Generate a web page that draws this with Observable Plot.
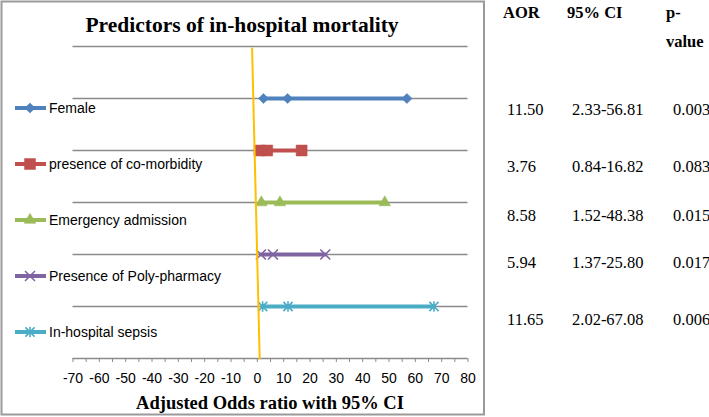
<!DOCTYPE html>
<html>
<head>
<meta charset="utf-8">
<script src="https://cdn.jsdelivr.net/npm/d3@7"></script>
<script src="https://cdn.jsdelivr.net/npm/@observablehq/plot@0.6"></script>
<style>
  html, body { margin: 0; padding: 0; background: #fff; }
  #wrap { position: relative; width: 709px; height: 417px; background: #fff; overflow: hidden; }
  #wrap > svg { position: absolute; left: 0; top: 0; }
</style>
</head>
<body>
<div id="wrap"></div>
<script>
// ---- Data ----
const categories = ["Female", "presence of co-morbidity", "Emergency admission", "Presence of Poly-pharmacy", "In-hospital sepsis"];
const aor      = [11.50, 3.76, 8.58, 5.94, 11.65];
const ciLow    = [2.33, 0.84, 1.52, 1.37, 2.02];
const ciHigh   = [56.81, 16.82, 48.38, 25.80, 67.08];
const pValues  = ["0.003", "0.083", "0.015", "0.017", "0.006"];
const xTickLabels = [-70, -60, -50, -40, -30, -20, -10, 0, 10, 20, 30, 40, 50, 60, 70, 80];
const xMinorTicks = d3.range(-70, 81, 5);
const refLineX = [-2.0, 0.9];
const refLineY = [5.96, 0];
const tableHeaders = ["AOR", "95% CI", "p-", "value"];
const titleText = "Predictors of in-hospital mortality";
const xLabelText = "Adjusted Odds ratio with 95% CI";

// ---- Styles ----
const colors = ["#4F81BD", "#C0504D", "#9BBB59", "#8064A2", "#4BACC6"];
const gridColor = "#8a8a8a";

// Excel-like star marker: X plus a vertical bar
const excelStar = {
  draw(ctx, size) {
    const r = Math.sqrt(size / Math.PI);
    ctx.moveTo(-r, -r); ctx.lineTo(r, r);
    ctx.moveTo(-r, r); ctx.lineTo(r, -r);
    ctx.moveTo(0, -r * 1.15); ctx.lineTo(0, r * 1.15);
  }
};
const markerSpec = [
  {symbol: "diamond2", r: 4.6, filled: true},
  {symbol: "square", r: 6.2, filled: true},
  {symbol: "triangle", r: 4.3, filled: true},
  {symbol: "times", r: 4.6, filled: false},
  {symbol: excelStar, r: 4.6, filled: false}
];

// ---- Build tables ----
const points = [];
categories.forEach((c, i) => {
  [ciLow[i], aor[i], ciHigh[i]].forEach(v => points.push({series: c, row: 5 - i, value: v, idx: i}));
});
const refLine = refLineX.map((x, i) => ({x, y: refLineY[i]}));

const W = 485, H = 417;
const marks = [
  Plot.ruleY([1, 2, 3, 4, 5, 6], {stroke: gridColor, strokeWidth: 1.3}),
  Plot.ruleY([0], {stroke: gridColor, strokeWidth: 1.3}),
  Plot.axisX({ticks: xMinorTicks, tickSize: 4, tickFormat: () => "", stroke: gridColor, strokeWidth: 1}),
  Plot.axisX({ticks: xTickLabels, tickSize: 0, tickPadding: 14.5, tickFormat: d => String(d),
              fill: "#000", fontSize: 14, fontFamily: "Liberation Sans, Arial, sans-serif"}),
  Plot.line(points, {x: "value", y: "row", z: "series", stroke: "series", strokeWidth: 4})
];
categories.forEach((c, i) => {
  const m = markerSpec[i];
  marks.push(Plot.dot(points.filter(p => p.idx === i), {
    x: "value", y: "row", symbol: () => m.symbol, r: m.r,
    fill: m.filled ? colors[i] : "none",
    stroke: colors[i], strokeWidth: m.filled ? 0.5 : 1.6
  }));
});
marks.push(Plot.line(refLine, {x: "x", y: "y", stroke: "#FFC000", strokeWidth: 2}));

const chart = Plot.plot({
  width: W, height: H,
  marginLeft: 72.5, marginRight: W - 467.5, marginTop: 46, marginBottom: H - 358,
  x: {domain: [-70, 80], label: null},
  y: {domain: [0, 6], axis: null},
  color: {domain: categories, range: colors},
  symbol: {domain: markerSpec.map((m, i) => i), range: markerSpec.map(m => m.symbol)},
  style: {background: "transparent", fontFamily: "Liberation Sans, Arial, sans-serif", fontSize: "14px", color: "#000", overflow: "visible"},
  marks
});
document.getElementById("wrap").appendChild(chart);

// ---- Overlay: frame, title, axis label, legend, table ----
const ov = d3.select("#wrap").append("svg").attr("width", 709).attr("height", 417)
  .style("pointer-events", "none");
ov.append("rect").attr("x", 1.5).attr("y", 1.5).attr("width", 482.5).attr("height", 413)
  .attr("fill", "none").attr("stroke", "#9a9a9a").attr("stroke-width", 2);

const serif = "Liberation Serif, Times New Roman, serif";
const sans = "Liberation Sans, Arial, sans-serif";
ov.append("text").attr("x", 242).attr("y", 32).attr("text-anchor", "middle")
  .attr("font-family", serif).attr("font-weight", "bold").attr("font-size", 21.5).text(titleText);
ov.append("text").attr("x", 270).attr("y", 409).attr("text-anchor", "middle")
  .attr("font-family", serif).attr("font-weight", "bold").attr("font-size", 18.5).text(xLabelText);

// Legend
const symMap = {diamond2: d3.symbolDiamond2, square: d3.symbolSquare, triangle: d3.symbolTriangle, times: d3.symbolTimes};
categories.forEach((c, i) => {
  const cy = 108 + i * 56;
  const g = ov.append("g");
  g.append("line").attr("x1", 15).attr("x2", 46).attr("y1", cy).attr("y2", cy)
    .attr("stroke", colors[i]).attr("stroke-width", 4);
  const m = markerSpec[i];
  const d3sym = symMap[m.symbol] || m.symbol;
  g.append("path").attr("transform", `translate(30,${cy})`)
    .attr("d", d3.symbol(d3sym, m.r * m.r * Math.PI)())
    .attr("fill", m.filled ? colors[i] : "none")
    .attr("stroke", colors[i]).attr("stroke-width", m.filled ? 0.5 : 1.6);
  g.append("text").attr("x", 49).attr("y", cy + 5)
    .attr("font-family", sans).attr("font-size", 14).attr("fill", "#000").text(c);
});

// Table
const hdr = ov.append("g").attr("font-family", serif).attr("font-weight", "bold").attr("font-size", 16.5);
hdr.append("text").attr("x", 503).attr("y", 18).text(tableHeaders[0]);
hdr.append("text").attr("x", 567).attr("y", 18).text(tableHeaders[1]);
hdr.append("text").attr("x", 666).attr("y", 18).text(tableHeaders[2]);
hdr.append("text").attr("x", 666).attr("y", 47).text(tableHeaders[3]);
const tableRowY = [115, 172, 221, 268, 325];
const body = ov.append("g").attr("font-family", serif).attr("font-size", 16.5);
categories.forEach((c, i) => {
  body.append("text").attr("x", 507).attr("y", tableRowY[i]).text(aor[i].toFixed(2));
  body.append("text").attr("x", 572).attr("y", tableRowY[i]).text(ciLow[i].toFixed(2) + "-" + ciHigh[i].toFixed(2));
  body.append("text").attr("x", 673).attr("y", tableRowY[i]).text(pValues[i]);
});
</script>
</body>
</html>
